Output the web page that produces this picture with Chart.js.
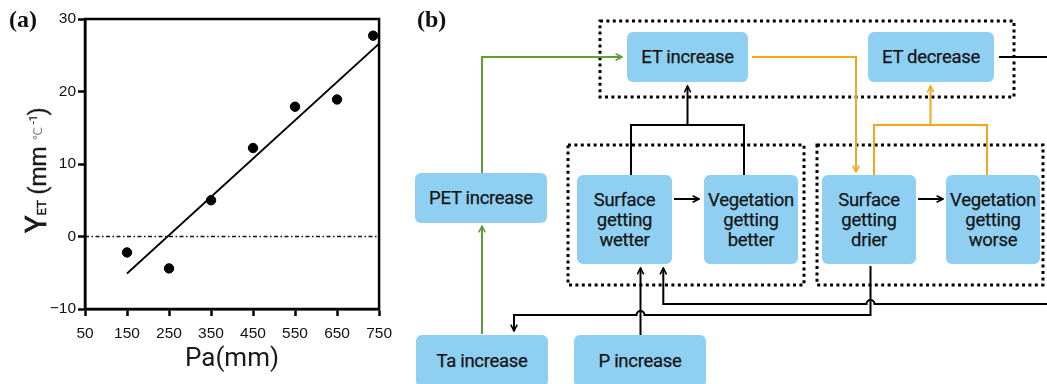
<!DOCTYPE html>
<html><head><meta charset="utf-8">
<script src="https://cdn.jsdelivr.net/npm/chart.js@4.4.1/dist/chart.umd.min.js"></script>
<style>
html,body{margin:0;padding:0;background:#fff;}
body{width:1047px;height:384px;overflow:hidden;position:relative;}
#c{position:absolute;left:0;top:0;}
.lbl{position:absolute;font-family:"Liberation Serif","DejaVu Serif",serif;font-weight:bold;font-size:24px;color:#111;line-height:1;}
.box{position:absolute;background:#8fd0f2;border-radius:6px;display:flex;align-items:center;justify-content:center;text-align:center;font-family:Roboto,"DejaVu Sans",sans-serif;font-weight:400;font-size:18.5px;line-height:20px;color:#151515;box-sizing:border-box;-webkit-text-stroke:0.25px #151515;letter-spacing:-0.3px;}
#ytitle{position:absolute;left:36px;top:170px;transform:translate(-50%,-50%) rotate(-90deg);white-space:nowrap;font-family:Roboto,"DejaVu Sans",sans-serif;font-weight:400;color:#1a1a1a;font-size:23px;line-height:1;-webkit-text-stroke:0.4px #1a1a1a;}
#ytitle .big{font-size:29px;-webkit-text-stroke:0.7px #1a1a1a;}
#ytitle .sub{font-size:13px;}
#ytitle .deg{font-size:12px;color:#777;vertical-align:4px;-webkit-text-stroke:0;}
#ytitle .sup{font-size:11px;vertical-align:9px;-webkit-text-stroke:0.2px #1a1a1a;}
svg{position:absolute;left:0;top:0;}
</style>
</head><body>
<canvas id="c" width="400" height="384"></canvas>
<div class="lbl" style="left:9px;top:7px;">(a)</div>
<div class="lbl" style="left:417px;top:7px;">(b)</div>
<div id="ytitle"><span class="big">Y</span><span class="sub">ET</span> (mm <span class="deg">℃</span><span class="sup"> -1</span>)</div>
<div id="flow"></div>
<svg id="svg" width="1047" height="384" viewBox="0 0 1047 384">
<defs>
<marker id="ab" viewBox="0 0 10 10" refX="9" refY="5" markerWidth="8" markerHeight="8" markerUnits="userSpaceOnUse" orient="auto"><path d="M1,1 L9,5 L1,9" fill="none" stroke="#000" stroke-width="2"/></marker>
<marker id="ag" viewBox="0 0 10 10" refX="9" refY="5" markerWidth="8" markerHeight="8" markerUnits="userSpaceOnUse" orient="auto"><path d="M1,1 L9,5 L1,9" fill="none" stroke="#5f9e35" stroke-width="2"/></marker>
<marker id="ao" viewBox="0 0 10 10" refX="9" refY="5" markerWidth="8" markerHeight="8" markerUnits="userSpaceOnUse" orient="auto"><path d="M1,1 L9,5 L1,9" fill="none" stroke="#f2a71b" stroke-width="2"/></marker>
</defs>
<g fill="none" stroke="#000" stroke-width="3" stroke-dasharray="3 3.4">
<rect x="600" y="21" width="414" height="76"/>
<rect x="568" y="145" width="236" height="140"/>
<rect x="817" y="145" width="226" height="140"/>
</g>
<g fill="none" stroke="#5f9e35" stroke-width="2">
<path d="M482,334 L482,226" marker-end="url(#ag)"/>
<path d="M482,173 L482,57 L622,57" marker-end="url(#ag)"/>
</g>
<g fill="none" stroke="#f2a71b" stroke-width="2">
<path d="M752,57 L856,57 L856,172" marker-end="url(#ao)"/>
<path d="M874,175 L874,125 L987,125 L987,175"/>
<path d="M930.5,125 L930.5,86" marker-end="url(#ao)"/>
</g>
<g fill="none" stroke="#000" stroke-width="2">
<path d="M631,175 L631,125 L744,125 L744,175"/>
<path d="M687.5,125 L687.5,86" marker-end="url(#ab)"/>
<path d="M674,199 L699,199" marker-end="url(#ab)"/>
<path d="M918,199 L943,199" marker-end="url(#ab)"/>
<path d="M999,57 L1047,57"/>
<path d="M640.5,335 L640.5,268" marker-end="url(#ab)"/>
<path d="M1047,304 L874.5,304 A4,4 0 0 0 866.5,304 L663.3,304 L663.3,268" marker-end="url(#ab)"/>
<path d="M870.5,266 L870.5,315 L644.5,315 A4,4 0 0 0 636.5,315 L514,315 L514,331" marker-end="url(#ab)"/>
</g>
</svg>
<script>
// ---- Panel (a) data ----
const paMM     = [150, 250, 350, 450, 550, 650, 736];
const gammaET  = [-2.2, -4.4, 5.0, 12.2, 17.9, 18.9, 27.7];
const fitPa    = [150, 750];
const fitGamma = [-5.1, 26.6];
const zeroPa   = [50, 750];
const zeroGamma= [0, 0];
const xTicks   = [50, 150, 250, 350, 450, 550, 650, 750];
const yTicks   = [-10, 0, 10, 20, 30];

// ---- Panel (b) node labels ----
const nodeLabels = ['ET increase','ET decrease','PET increase','Surface<br>getting<br>wetter','Vegetation<br>getting<br>better','Surface<br>getting<br>drier','Vegetation<br>getting<br>worse','Ta increase','P increase'];
const nodeGeom = [[627,32,121,50],[868,32,126,50],[415,173,132,50],[577,175,95,89],[704,175,94,89],[822,175,94,89],[946,175,94,89],[416,335,132,52],[574,335,132,52]];
const flow = document.getElementById('flow');
nodeLabels.forEach((t,i)=>{
  const d=document.createElement('div'); d.className='box';
  const g=nodeGeom[i];
  d.style.left=g[0]+'px'; d.style.top=g[1]+'px'; d.style.width=g[2]+'px'; d.style.height=g[3]+'px';
  d.innerHTML=t; flow.appendChild(d);
});

const zip=(a,b)=>a.map((v,i)=>({x:v,y:b[i]}));
const framePlugin={id:'frame',afterDraw(chart){const {ctx,chartArea:a}=chart;ctx.save();ctx.strokeStyle='#000';ctx.lineWidth=2.5;ctx.strokeRect(a.left,a.top,a.right-a.left,a.bottom-a.top);ctx.restore();}};
const tickFont={family:'"Liberation Sans", Arial, sans-serif',size:15.5};
new Chart(document.getElementById('c'),{
  type:'scatter',
  data:{datasets:[
    {data:zip(zeroPa,zeroGamma),showLine:true,borderColor:'#111',borderWidth:1.7,borderDash:[4,2.5,1.5,2.5],pointRadius:0},
    {data:zip(fitPa,fitGamma),showLine:true,borderColor:'#000',borderWidth:1.8,pointRadius:0},
    {data:zip(paMM,gammaET),showLine:false,backgroundColor:'#000',borderColor:'#000',pointRadius:4.7}
  ]},
  options:{
    responsive:false,animation:false,devicePixelRatio:1,
    layout:{padding:{left:0,right:14,top:19,bottom:0}},
    plugins:{legend:{display:false},tooltip:{enabled:false}},
    scales:{
      x:{type:'linear',min:50,max:750,
        afterBuildTicks:s=>{s.ticks=xTicks.map(v=>({value:v}));},
        grid:{drawOnChartArea:false,drawTicks:true,tickLength:7,tickWidth:2.5,tickColor:'#000'},
        border:{display:true,color:'#000',width:2.5},
        ticks:{padding:8,font:tickFont,color:'#111',maxRotation:0,autoSkip:false},
        title:{display:true,text:'Pa(mm)',font:{family:'Roboto',size:26},color:'#1a1a1a',padding:{top:0,bottom:9}},
        afterFit:s=>{s.height=75;}
      },
      y:{type:'linear',min:-10,max:30,
        afterBuildTicks:s=>{s.ticks=yTicks.map(v=>({value:v}));},
        grid:{drawOnChartArea:false,drawTicks:true,tickLength:7,tickWidth:2.5,tickColor:'#000'},
        border:{display:true,color:'#000',width:2.5},
        ticks:{padding:2,font:tickFont,color:'#111',autoSkip:false,callback:v=>String(v).replace('-','\u2212')},
        afterFit:s=>{s.width=85;}
      }
    }
  },
  plugins:[framePlugin]
});
</script>
</body></html>
